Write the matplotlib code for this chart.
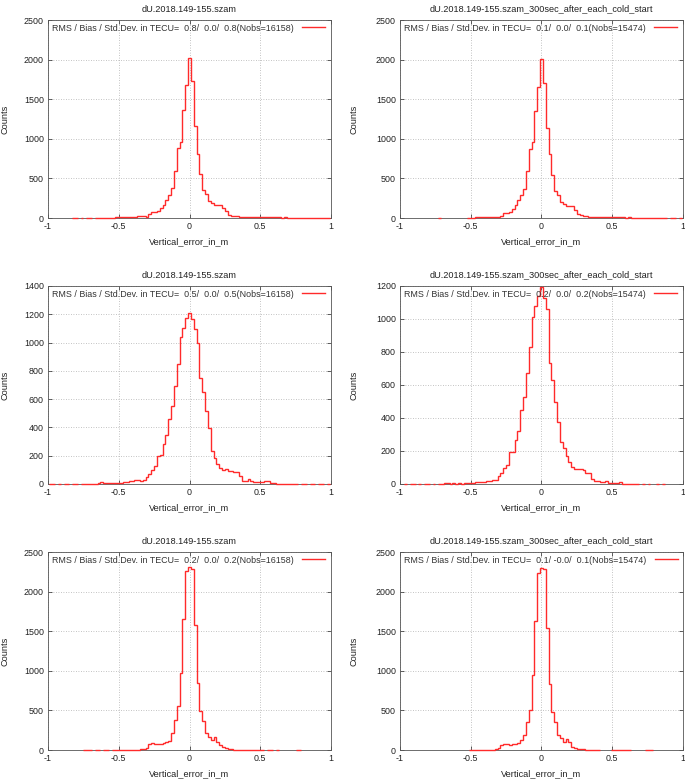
import numpy as np
import matplotlib
matplotlib.use("Agg")
import matplotlib.pyplot as plt

plt.rcParams['font.family'] = ['Liberation Sans', 'DejaVu Sans']

# histogram bins are 0.02 wide, centred on 0, +-0.02, ... +-0.98
bin_width = 0.02
n_side = 49

# counts: left tail (outer -> centre, ending at bin -0.02),
# centre bin, right tail (bin 0.02 -> outer); 0 = no entry
left_p1 = [1, 1, 0, 1, 0, 1, 1, 0, 1, 2, 1, 2, 3, 4, 6, 8, 9, 8, 8, 12, 12, 12, 13, 25,
           25, 29, 12, 54, 75, 75, 85, 125, 165, 225, 285, 380, 590, 880, 965, 1360, 1680]
peak_p1 = 2020
right_p1 = [1725, 1160, 810, 550, 350, 300, 210, 185, 160, 160, 160, 130, 85, 40, 28, 25,
            22, 18, 10, 10, 14, 16, 14, 12, 16, 14, 10, 10, 8, 10, 8, 9, 6, 7, 5, 6, 4, 5,
            4, 3, 3, 2, 3, 2, 1, 2, 1, 1, 1]

left_p2 = [1, 0, 0, 0, 0, 0, 0, 0, 0, 0,
           1, 3, 5, 8, 10, 10, 12, 12, 12, 17, 17, 12, 21, 63, 63, 79, 117, 159, 222, 289,
           372, 594, 870, 962, 1351, 1655]
peak_p2 = 2010
right_p2 = [1703, 1142, 803, 540, 335, 289, 201, 180, 155, 155, 155, 105, 54, 33, 30, 22,
            17, 14, 10, 8, 10, 14, 12, 14, 10, 8, 9, 7, 8, 6, 7, 5, 6, 4, 5, 3, 4, 2, 3, 2,
            1, 2, 1, 1, 0, 1, 1, 0, 1]

left_p3 = [1, 1, 0, 1, 0, 1, 1, 0, 1, 1, 0, 1, 1, 2, 1,
           2, 3, 5, 15, 5, 6, 8, 7, 9, 8, 8, 14, 14, 19, 19, 26, 26, 19, 31, 50, 74, 102,
           126, 198, 205, 280, 345, 460, 550, 695, 845, 1040, 1105, 1175]
peak_p3 = 1207
right_p3 = [1168, 1098, 1000, 750, 650, 519, 395, 235, 181, 138, 114, 98, 107, 93, 90, 86,
            86, 55, 24, 24, 36, 19, 12, 12, 12, 12, 19, 19, 7, 7, 3, 2, 1, 2, 1, 1, 2, 1,
            0, 1, 1, 0, 1, 1, 0, 1, 1, 0, 1]

left_p4 = [1, 0, 1, 1, 0, 1, 0, 1, 1, 0, 1, 0, 1, 2,
           6, 5, 3, 4, 3, 5, 3, 4, 5, 6, 6, 10, 10, 14, 14, 20, 20, 22, 26, 46, 66, 97, 117,
           196, 196, 267, 322, 447, 530, 672, 828, 1010, 1080, 1140]
peak_p4 = 1195
right_p4 = [1130, 1060, 731, 628, 499, 378, 254, 216, 167, 136, 106, 88, 92, 92, 82, 66, 66,
            28, 20, 20, 12, 12, 20, 6, 6, 6, 6, 12, 3, 2, 2, 1, 2, 1, 0, 1, 0, 1, 0, 0, 1,
            0, 1]

left_p5 = [1, 1, 1, 0, 1, 1, 0, 1, 1, 0, 1, 1, 2, 1, 3, 2, 3, 2, 3, 4, 8, 15, 30, 70, 92,
           72, 72, 80, 85, 95, 110, 210, 375, 560, 978, 1660, 2260]
peak_p5 = 2315
right_p5 = [2290, 1575, 850, 490, 360, 210, 168, 125, 160, 105, 63, 34, 25, 18, 10, 6, 4,
            3, 2, 3, 2, 3, 1, 2, 1, 2, 0, 1, 1, 0, 1, 0, 0, 0, 0, 0, 0, 1, 1]

left_p6 = [1, 1, 1, 1, 2, 1, 2, 2, 5, 10, 20, 62, 82, 72, 68, 70, 75, 90, 120, 190, 348,
           500, 945, 1635, 2230]
peak_p6 = 2295
right_p6 = [2280, 1540, 830, 485, 348, 190, 148, 100, 140, 97, 42, 22, 18, 13, 10, 5, 3, 2,
            2, 1, 0, 0, 0, 0, 1, 1, 1, 1, 1, 1, 1, 0, 0, 0, 0, 0, 1, 1, 1]

titles = ["dU.2018.149-155.szam", "dU.2018.149-155.szam_300sec_after_each_cold_start"] * 3
key_texts = [
    "RMS / Bias / Std.Dev. in TECU=  0.8/  0.0/  0.8(Nobs=16158)",
    "RMS / Bias / Std.Dev. in TECU=  0.1/  0.0/  0.1(Nobs=15474)",
    "RMS / Bias / Std.Dev. in TECU=  0.5/  0.0/  0.5(Nobs=16158)",
    "RMS / Bias / Std.Dev. in TECU=  0.2/  0.0/  0.2(Nobs=15474)",
    "RMS / Bias / Std.Dev. in TECU=  0.2/  0.0/  0.2(Nobs=16158)",
    "RMS / Bias / Std.Dev. in TECU=  0.1/ -0.0/  0.1(Nobs=15474)",
]
panels = [(left_p1, peak_p1, right_p1), (left_p2, peak_p2, right_p2),
          (left_p3, peak_p3, right_p3), (left_p4, peak_p4, right_p4),
          (left_p5, peak_p5, right_p5), (left_p6, peak_p6, right_p6)]
y_max = [2500, 2500, 1400, 1200, 2500, 2500]
y_step = [500, 500, 200, 200, 500, 500]
x_ticks = [-1, -0.5, 0, 0.5, 1]
x_ticklabels = ["-1", "-0.5", "0", "0.5", "1"]


def full_counts(left, peak, right):
    left = [0] * (n_side - len(left)) + list(left)
    right = list(right) + [0] * (n_side - len(right))
    vals = np.array(left[-n_side:] + [peak] + right[:n_side], dtype=float)
    vals[vals == 0] = np.nan  # empty bins are not drawn
    return vals


W, H = 685, 781
fig = plt.figure(figsize=(W / 100, H / 100), dpi=100)

col_x = [48, 400]
row_top = [20, 286, 552]
ax_w, ax_h = 283, 198

edges = (np.arange(-n_side, n_side + 2) - 0.5) * bin_width

for k in range(6):
    r, c = divmod(k, 2)
    ax = fig.add_axes([col_x[c] / W, 1 - (row_top[r] + ax_h) / H, ax_w / W, ax_h / H])
    vals = full_counts(*panels[k])
    ax.stairs(vals, edges, baseline=None, color='#ff2a2a', lw=1.0, clip_on=False,
              label=key_texts[k], zorder=3)
    ax.set_xlim(-1, 1)
    ax.set_ylim(0, y_max[k])
    ax.set_xticks(x_ticks)
    ax.set_xticklabels(x_ticklabels)
    ax.set_yticks(np.arange(0, y_max[k] + 1, y_step[k]))
    ax.tick_params(direction='in', top=True, right=True, length=3, width=0.5,
                   labelsize=6.4, pad=3, colors='#222222')
    ax.grid(True, color='#b0b0b0', lw=0.6, linestyle=(0, (1, 2)))
    for s in ax.spines.values():
        s.set_color('#555555')
        s.set_linewidth(0.6)
    ax.set_title(titles[k], fontsize=6.6, pad=6, color='#222222')
    ax.set_ylabel("Counts", fontsize=6.6, color='#222222')
    ax.yaxis.set_label_coords(-0.135 if c == 0 else -0.145, 0.5)
    ax.set_xlabel("Vertical_error_in_m", fontsize=6.6, color='#222222')
    ax.xaxis.set_label_coords(0.5, -0.095)
    ax.legend(loc='upper left', frameon=False, markerfirst=False, fontsize=6.4,
              handlelength=2.6, handletextpad=1.0, borderaxespad=0.2, borderpad=0.2,
              labelcolor='#333333')

fig.savefig("out.png", dpi=100)
